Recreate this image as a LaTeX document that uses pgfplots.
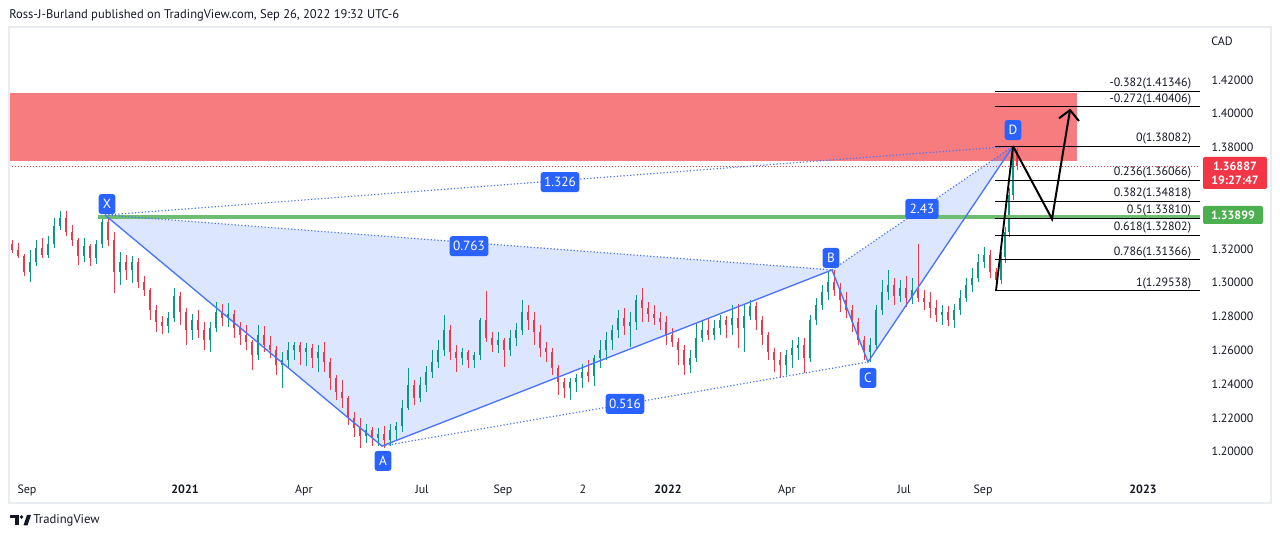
\documentclass[border=0pt]{standalone}
\usepackage{pgfplots}
\pgfplotsset{compat=1.18}
\usepackage{pgfplotstable}
\usepackage{fontspec}
\setmainfont{PT Sans}
\definecolor{tvUp}{HTML}{089981}
\definecolor{tvDown}{HTML}{F23645}
\definecolor{tvText}{HTML}{131722}
\definecolor{tvFrame}{HTML}{E9ECF1}
\definecolor{tvBlue}{HTML}{2962FF}
\definecolor{tvLine}{HTML}{4A74F7}
\definecolor{zoneRed}{HTML}{F77C80}
\definecolor{lvlGreen}{HTML}{6EBD70}
\definecolor{tagGreen}{HTML}{4CAF50}

% candles: x is the horizontal slot, prices in CAD
\pgfplotstableread{
x o h l c
30 1.3064 1.3194 1.3005 1.3123
36 1.3123 1.3253 1.3099 1.3206
48 1.3164 1.3276 1.3147 1.3229
54 1.3229 1.3384 1.3206 1.3336
60 1.3336 1.3425 1.3312 1.3384
84 1.3158 1.3265 1.3123 1.3217
96 1.3147 1.3253 1.3111 1.3229
102 1.3229 1.3395 1.3206 1.3360
120 1.3064 1.3182 1.2987 1.3123
132 1.3076 1.3158 1.2999 1.3123
168 1.2744 1.2827 1.2703 1.2792
174 1.2792 1.2970 1.2768 1.2921
192 1.2721 1.2815 1.2662 1.2780
210 1.2662 1.2768 1.2590 1.2733
216 1.2733 1.2886 1.2709 1.2827
228 1.2792 1.2880 1.2739 1.2815
258 1.2573 1.2750 1.2543 1.2691
282 1.2513 1.2590 1.2378 1.2543
288 1.2543 1.2650 1.2496 1.2602
294 1.2602 1.2650 1.2543 1.2632
306 1.2590 1.2644 1.2507 1.2615
318 1.2555 1.2632 1.2472 1.2590
366 1.2094 1.2165 1.2052 1.2129
378 1.2082 1.2141 1.2035 1.2105
390 1.2070 1.2165 1.2035 1.2129
396 1.2129 1.2176 1.2070 1.2153
402 1.2153 1.2307 1.2117 1.2260
408 1.2260 1.2496 1.2247 1.2395
420 1.2319 1.2443 1.2295 1.2395
426 1.2395 1.2507 1.2354 1.2472
432 1.2472 1.2602 1.2437 1.2531
438 1.2531 1.2662 1.2496 1.2602
444 1.2602 1.2809 1.2567 1.2721
462 1.2555 1.2615 1.2513 1.2590
474 1.2543 1.2590 1.2496 1.2573
480 1.2573 1.2792 1.2543 1.2780
498 1.2632 1.2709 1.2584 1.2662
510 1.2602 1.2721 1.2567 1.2674
516 1.2674 1.2762 1.2626 1.2721
522 1.2721 1.2898 1.2691 1.2827
570 1.2378 1.2437 1.2307 1.2413
576 1.2413 1.2460 1.2354 1.2437
582 1.2437 1.2519 1.2378 1.2472
594 1.2448 1.2573 1.2390 1.2555
600 1.2555 1.2662 1.2496 1.2602
606 1.2602 1.2709 1.2543 1.2662
612 1.2662 1.2750 1.2602 1.2721
618 1.2721 1.2839 1.2674 1.2792
630 1.2744 1.2827 1.2620 1.2768
636 1.2768 1.2928 1.2721 1.2898
690 1.2513 1.2602 1.2466 1.2555
696 1.2555 1.2762 1.2531 1.2674
702 1.2674 1.2780 1.2650 1.2721
714 1.2691 1.2780 1.2662 1.2733
720 1.2733 1.2809 1.2691 1.2780
732 1.2750 1.2869 1.2691 1.2792
744 1.2733 1.2874 1.2590 1.2803
750 1.2803 1.2898 1.2780 1.2863
786 1.2513 1.2602 1.2454 1.2573
792 1.2573 1.2662 1.2496 1.2615
798 1.2615 1.2680 1.2543 1.2632
810 1.2555 1.2809 1.2531 1.2780
816 1.2780 1.2910 1.2750 1.2869
822 1.2869 1.2987 1.2839 1.2945
828 1.2945 1.3064 1.2898 1.3005
870 1.2590 1.2674 1.2531 1.2632
876 1.2632 1.2869 1.2602 1.2839
882 1.2839 1.3017 1.2809 1.2945
888 1.2945 1.3076 1.2898 1.2987
900 1.2921 1.3017 1.2886 1.2970
912 1.2910 1.3029 1.2874 1.2957
942 1.2809 1.2869 1.2750 1.2827
954 1.2780 1.2874 1.2733 1.2839
960 1.2839 1.2957 1.2809 1.2910
966 1.2910 1.3029 1.2886 1.2987
972 1.2987 1.3088 1.2945 1.3029
978 1.3029 1.3170 1.3005 1.3123
984 1.3123 1.3212 1.3088 1.3164
1001 1.3017 1.3180 1.2993 1.3150
1005 1.3150 1.3330 1.3120 1.3300
1009 1.3300 1.3560 1.3270 1.3520
1013 1.3520 1.3808 1.3490 1.3786
}\upT

\pgfplotstableread{
x o h l c
12 1.3229 1.3253 1.3176 1.3194
18 1.3194 1.3235 1.3147 1.3158
24 1.3158 1.3170 1.3040 1.3064
42 1.3206 1.3265 1.3147 1.3164
66 1.3384 1.3425 1.3276 1.3300
72 1.3300 1.3342 1.3217 1.3253
78 1.3253 1.3265 1.3105 1.3158
90 1.3217 1.3229 1.3099 1.3147
108 1.3360 1.3401 1.3217 1.3253
114 1.3253 1.3300 1.2939 1.3064
126 1.3123 1.3164 1.3017 1.3076
138 1.3123 1.3147 1.2970 1.3005
144 1.3005 1.3040 1.2921 1.2957
150 1.2957 1.2970 1.2780 1.2839
156 1.2839 1.2869 1.2709 1.2768
162 1.2768 1.2803 1.2697 1.2744
180 1.2921 1.2945 1.2750 1.2827
186 1.2827 1.2851 1.2632 1.2721
198 1.2780 1.2839 1.2674 1.2721
204 1.2721 1.2768 1.2602 1.2662
222 1.2827 1.2874 1.2744 1.2792
234 1.2815 1.2839 1.2674 1.2733
240 1.2733 1.2768 1.2632 1.2691
246 1.2691 1.2750 1.2602 1.2650
252 1.2650 1.2662 1.2484 1.2573
264 1.2691 1.2744 1.2590 1.2632
270 1.2632 1.2685 1.2555 1.2602
276 1.2602 1.2626 1.2454 1.2513
300 1.2632 1.2650 1.2513 1.2590
312 1.2615 1.2638 1.2496 1.2555
324 1.2590 1.2650 1.2472 1.2531
330 1.2531 1.2555 1.2366 1.2437
336 1.2437 1.2454 1.2307 1.2354
342 1.2354 1.2425 1.2260 1.2319
348 1.2319 1.2331 1.2159 1.2200
354 1.2200 1.2236 1.2088 1.2141
360 1.2141 1.2200 1.2023 1.2094
372 1.2129 1.2147 1.2035 1.2082
384 1.2105 1.2153 1.2023 1.2070
414 1.2395 1.2425 1.2277 1.2319
450 1.2721 1.2750 1.2543 1.2590
456 1.2590 1.2632 1.2472 1.2555
468 1.2590 1.2602 1.2496 1.2543
486 1.2780 1.2951 1.2650 1.2674
492 1.2674 1.2709 1.2590 1.2632
504 1.2662 1.2674 1.2502 1.2602
528 1.2827 1.2869 1.2721 1.2780
534 1.2780 1.2827 1.2632 1.2709
540 1.2709 1.2750 1.2561 1.2615
546 1.2615 1.2650 1.2531 1.2590
552 1.2590 1.2615 1.2454 1.2496
558 1.2496 1.2513 1.2336 1.2413
564 1.2413 1.2437 1.2319 1.2378
588 1.2472 1.2543 1.2413 1.2448
624 1.2792 1.2851 1.2691 1.2744
642 1.2898 1.2970 1.2768 1.2851
648 1.2851 1.2886 1.2768 1.2815
654 1.2815 1.2869 1.2750 1.2792
660 1.2792 1.2827 1.2721 1.2768
666 1.2768 1.2803 1.2632 1.2691
672 1.2691 1.2733 1.2620 1.2650
678 1.2650 1.2674 1.2513 1.2602
684 1.2602 1.2632 1.2454 1.2513
708 1.2721 1.2792 1.2662 1.2691
726 1.2780 1.2803 1.2674 1.2750
738 1.2792 1.2874 1.2615 1.2733
756 1.2863 1.2886 1.2721 1.2780
762 1.2780 1.2803 1.2632 1.2691
768 1.2691 1.2709 1.2543 1.2590
774 1.2590 1.2615 1.2472 1.2543
780 1.2543 1.2590 1.2437 1.2513
804 1.2632 1.2674 1.2466 1.2555
834 1.3005 1.3076 1.2921 1.2957
840 1.2957 1.2999 1.2827 1.2898
846 1.2898 1.2945 1.2792 1.2839
852 1.2839 1.2869 1.2709 1.2768
858 1.2768 1.2792 1.2632 1.2662
864 1.2662 1.2685 1.2543 1.2590
894 1.2987 1.3029 1.2869 1.2921
906 1.2970 1.3040 1.2857 1.2910
918 1.2957 1.3229 1.2886 1.2910
924 1.2910 1.2957 1.2839 1.2886
930 1.2886 1.2945 1.2792 1.2851
936 1.2851 1.2898 1.2768 1.2809
948 1.2827 1.2863 1.2744 1.2780
990 1.3164 1.3194 1.3029 1.3064
996 1.3064 1.3088 1.2954 1.3017
1017 1.3786 1.3796 1.3667 1.3689
}\downT

\tikzset{
  dotline/.style={tvLine, line width=0.9pt, dash pattern=on 0.9pt off 1.6pt},
  ptlabel/.style={fill=tvBlue, text=white, rounded corners=2pt, inner sep=0pt,
    minimum height=15pt, font=\fontsize{10}{11}\selectfont},
  fiblabel/.style={anchor=south east, inner sep=1.2pt, text=tvText,
    font=\fontsize{9}{10}\selectfont},
}
\pgfplotsset{
  wick/.style={draw=none, mark=none, error bars/.cd, y dir=plus, y explicit, error mark=none,
    error bar style={draw=#1, line width=0.65pt}},
  body/.style={draw=none, mark=none, error bars/.cd, y dir=plus, y explicit, error mark=none,
    error bar style={draw=#1, line width=2pt}},
}

\begin{document}
\begin{tikzpicture}
\useasboundingbox (0,0) rectangle (960pt,403.5pt);
\begin{axis}[
  at={(0,0)}, anchor=south west, scale only axis,
  width=960pt, height=403.5pt,
  xmin=0, xmax=1280, ymin=1.148994, ymax=1.467337,
  clip=false, axis line style={draw=none}, major tick length=0pt,
  /pgf/number format/assume math mode=true,
  scaled y ticks=false,
  ytick={1.20,1.22,1.24,1.26,1.28,1.30,1.32,1.38,1.40,1.42},
  yticklabel pos=right,
  yticklabel style={/pgf/number format/fixed, /pgf/number format/fixed zerofill,
    /pgf/number format/precision=5, anchor=west, xshift=-54.75pt,
    text=tvText, font=\fontsize{9}{10}\selectfont},
  xtick={27,185,304,422,503,583,668,787,904,983,1143},
  xticklabels={Sep,\textbf{2021},Apr,Jul,Sep,2,\textbf{2022},Apr,Jul,Sep,\textbf{2023}},
  xticklabel style={yshift=43pt, text=tvText, font=\fontsize{9}{10}\selectfont},
]
% supply zone
\addplot[draw=none, fill=zoneRed] coordinates {(9,1.4123)(1077,1.4123)(1077,1.3721)(9,1.3721)};
% XABCD pattern fill
\addplot[draw=none, fill=tvBlue, fill opacity=0.16] coordinates {(105,1.3401)(382,1.2034)(832,1.3076)};
\addplot[draw=none, fill=tvBlue, fill opacity=0.16] coordinates {(832,1.3076)(868,1.2531)(1013,1.3808)};

% candles: wicks then bodies
\addplot[wick=tvUp] table[x=x, y=l, y error expr={\thisrow{h}-\thisrow{l}}] \upT;
\addplot[body=tvUp] table[x=x, y=o, y error expr={\thisrow{c}-\thisrow{o}}] \upT;
\addplot[wick=tvDown] table[x=x, y=l, y error expr={\thisrow{h}-\thisrow{l}}] \downT;
\addplot[body=tvDown] table[x=x, y=c, y error expr={\thisrow{o}-\thisrow{c}}] \downT;

% levels
\addplot[tvDown, line width=0.75pt, dash pattern=on 0.75pt off 1.5pt] coordinates {(9,1.36887)(1200,1.36887)};
\addplot[lvlGreen, line width=3pt] coordinates {(98,1.33899)(1200,1.33899)};

% pattern legs
\addplot[tvLine, line width=1pt] coordinates {(105,1.3401)(382,1.2034)(832,1.3076)(868,1.2531)(1013,1.3808)};
\addplot[dotline] coordinates {(105,1.3401)(832,1.3076)};
\addplot[dotline] coordinates {(382,1.2034)(868,1.2531)};
\addplot[dotline] coordinates {(105,1.3401)(1013,1.3808)};
\addplot[dotline] coordinates {(832,1.3076)(1013,1.3808)};

% fibonacci levels
\addplot[black, line width=0.75pt] coordinates {(995,1.41346)(1200,1.41346)};
\addplot[black, line width=0.75pt] coordinates {(995,1.40406)(1200,1.40406)};
\addplot[black, line width=0.75pt] coordinates {(995,1.38082)(1200,1.38082)};
\addplot[black, line width=0.75pt] coordinates {(995,1.36066)(1200,1.36066)};
\addplot[black, line width=0.75pt] coordinates {(995,1.34818)(1200,1.34818)};
\addplot[black, line width=0.75pt] coordinates {(995,1.33810)(1200,1.33810)};
\addplot[black, line width=0.75pt] coordinates {(995,1.32802)(1200,1.32802)};
\addplot[black, line width=0.75pt] coordinates {(995,1.31366)(1200,1.31366)};
\addplot[black, line width=0.75pt] coordinates {(995,1.29538)(1200,1.29538)};
\node[fiblabel] at (axis cs:1193,1.41346) {-0.382(1.41346)};
\node[fiblabel] at (axis cs:1193,1.40406) {-0.272(1.40406)};
\node[fiblabel] at (axis cs:1193,1.38082) {0(1.38082)};
\node[fiblabel] at (axis cs:1193,1.36066) {0.236(1.36066)};
\node[fiblabel] at (axis cs:1193,1.34818) {0.382(1.34818)};
\node[fiblabel] at (axis cs:1193,1.33810) {0.5(1.33810)};
\node[fiblabel] at (axis cs:1193,1.32802) {0.618(1.32802)};
\node[fiblabel] at (axis cs:1193,1.31366) {0.786(1.31366)};
\node[fiblabel] at (axis cs:1193,1.29538) {1(1.29538)};

% projected path
\addplot[black, line width=1.4pt] coordinates {(996,1.29538)(1013,1.38082)};
\addplot[black, line width=1.5pt] coordinates {(1013,1.38082)(1052,1.3378)(1070,1.4022)};
\addplot[black, line width=1.5pt] coordinates {(1059,1.3973)(1070,1.4022)(1079,1.3957)};

% pattern labels
\node[ptlabel, minimum width=12.5pt] at (axis cs:107,1.3466) {X};
\node[ptlabel, minimum width=12.5pt] at (axis cs:383,1.1946) {A};
\node[ptlabel, minimum width=12.5pt] at (axis cs:831,1.3147) {B};
\node[ptlabel, minimum width=12.5pt] at (axis cs:868,1.2437) {C};
\node[ptlabel, minimum width=12.5pt] at (axis cs:1013,1.3904) {D};
\node[ptlabel, minimum width=29pt] at (axis cs:469,1.3217) {0.763};
\node[ptlabel, minimum width=29pt] at (axis cs:560,1.3596) {1.326};
\node[ptlabel, minimum width=29pt] at (axis cs:625,1.2283) {0.516};
\node[ptlabel, minimum width=25pt] at (axis cs:922,1.3437) {2.43};
\end{axis}

% page furniture, in pixel units of the 1280x538 frame
\begin{scope}[x=0.75pt, y=-0.75pt, yshift=403.5pt]
\draw[tvFrame, line width=1.5pt] (9,27) rectangle (1271,503);
\node[anchor=west, inner sep=0pt, text=tvText, font=\fontsize{9.4}{10}\selectfont] at (9,15)
  {Ross-J-Burland published on TradingView.com, Sep 26, 2022 19:32 UTC-6};
\node[anchor=west, inner sep=0pt, text=tvText, font=\fontsize{9}{10}\selectfont] at (1211,41) {CAD};
\node[fill=tvDown, text=white, rounded corners=1.5pt, minimum width=48pt, minimum height=24pt,
  inner sep=0pt, align=center, font=\fontsize{9}{10.5}\selectfont\bfseries] at (1235,173) {1.36887\\19:27:47};
\node[fill=tagGreen, text=white, rounded corners=1.5pt, minimum width=45pt, minimum height=13.5pt,
  inner sep=0pt, font=\fontsize{9}{10}\selectfont\bfseries] at (1233,215) {1.33899};
% logo
\fill[tvText] (10,515) rectangle (18.5,518.5);
\fill[tvText] (14.5,515) rectangle (18.5,525.5);
\fill[tvText] (21.5,517) circle (1.9);
\fill[tvText] (23.5,525.5) -- (27.5,525.5) -- (31,515) -- (27,515) -- cycle;
\node[anchor=west, inner sep=0pt, text=tvText, font=\fontsize{9.5}{10}\selectfont] at (33,520.5) {TradingView};
\end{scope}
\end{tikzpicture}
\end{document}
